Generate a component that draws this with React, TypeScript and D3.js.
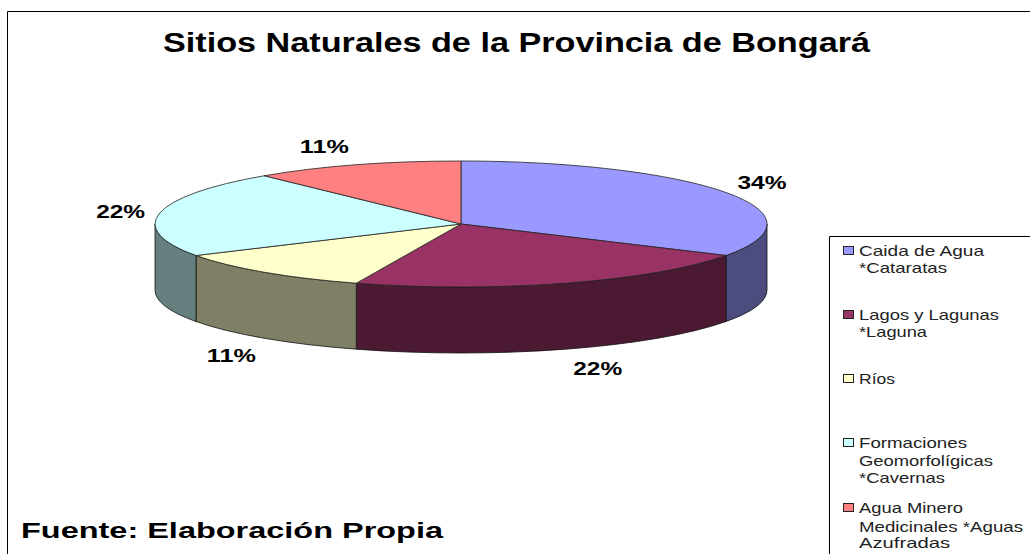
import React from 'react';
import * as d3 from 'd3';

const categories = ['Caida de Agua', 'Lagos y Lagunas', 'Ríos', 'Formaciones', 'Agua Minero'];
// slices are drawn from site counts, the printed percentages are what the chart shows
const siteCounts = [3, 2, 1, 2, 1];
const percentLabels = ['34%', '22%', '11%', '22%', '11%'];
const topColors = ['#9999FF', '#993366', '#FFFFCC', '#CCFFFF', '#FF8080'];
const sideColors = ['#4C4C7F', '#4C1933', '#7F7F66', '#667F7F', '#7F4040'];
const legendLines = [
  ['Caida de Agua', '*Cataratas'],
  ['Lagos y Lagunas', '*Laguna'],
  ['Ríos'],
  ['Formaciones', 'Geomorfolígicas', '*Cavernas'],
  ['Agua Minero', 'Medicinales *Aguas', 'Azufradas'],
];

const W = 1030;
const H = 554;
const cx = 461;
const cy = 224;
const rx = 306;
const ry = 63;
const depth = 66;
const font = '"Liberation Sans", Arial, sans-serif';

// pushes each label away from its slice, depth is added for the front ones
const labelOffsets = [[36, -3.5], [32, 26], [-33, 24], [-39, 5], [-32, -12]];
const legendRowY = [256, 320, 384, 448, 513];
const legendLineY = [[0, 17], [0, 17], [0], [0, 18, 35], [0, 19, 35]];
const legendWidths = [[125, 88], [140, 68], [36], [108, 134, 86], [104, 164, 91]];

const px = (a: number) => cx + rx * Math.sin(a);
const py = (a: number) => cy - ry * Math.cos(a);

const topPath = (a0: number, a1: number) =>
  `M${cx},${cy}L${px(a0)},${py(a0)}A${rx},${ry} 0 ${a1 - a0 > Math.PI ? 1 : 0} 1 ${px(a1)},${py(a1)}Z`;

const sidePath = (a0: number, a1: number) =>
  `M${px(a0)},${py(a0)}A${rx},${ry} 0 0 1 ${px(a1)},${py(a1)}` +
  `L${px(a1)},${py(a1) + depth}A${rx},${ry} 0 0 0 ${px(a0)},${py(a0) + depth}Z`;

export default function App() {
  const slices = d3.pie<number>().sort(null)(siteCounts);

  return (
    <svg
      width={W}
      height={H}
      viewBox={`0 0 ${W} ${H}`}
      style={{ position: 'absolute', left: 0, top: 0, display: 'block', background: '#fff' }}
    >
      {/* chart frame, open to the right and bottom of the picture */}
      <path d={`M7.5,${H}V11.5H${W}`} fill="none" stroke="#000" strokeWidth={1} />

      <text x={163} y={51.5} fontFamily={font} fontWeight="bold" fontSize={28} textLength={707} lengthAdjust="spacingAndGlyphs" fill="#000">
        Sitios Naturales de la Provincia de Bongará
      </text>

      {/* only the front half of the rim shows */}
      {slices.map((s, i) => {
        const a0 = Math.max(s.startAngle, Math.PI / 2);
        const a1 = Math.min(s.endAngle, (3 * Math.PI) / 2);
        if (a1 <= a0) return null;
        return <path key={categories[i]} d={sidePath(a0, a1)} fill={sideColors[i]} stroke="#111" strokeWidth={0.8} />;
      })}

      {slices.map((s, i) => (
        <path key={categories[i]} d={topPath(s.startAngle, s.endAngle)} fill={topColors[i]} stroke="#222" strokeWidth={0.8} />
      ))}

      {slices.map((s, i) => {
        const mid = (s.startAngle + s.endAngle) / 2;
        const front = Math.cos(mid) < 0 ? depth : 0;
        return (
          <text
            key={categories[i]}
            x={px(mid) + labelOffsets[i][0]}
            y={py(mid) + front + labelOffsets[i][1]}
            textAnchor="middle"
            fontFamily={font}
            fontWeight="bold"
            fontSize={18}
            textLength={49}
            lengthAdjust="spacingAndGlyphs"
            fill="#000"
          >
            {percentLabels[i]}
          </text>
        );
      })}

      {/* legend box runs off the picture too */}
      <path d={`M829.5,${H}V236.5H${W}`} fill="none" stroke="#000" strokeWidth={1} />
      {legendLines.map((lines, i) => (
        <g key={categories[i]}>
          <rect x={843.5} y={legendRowY[i] - 9.5} width={10} height={8} fill={topColors[i]} stroke="#222" strokeWidth={1} />
          {lines.map((line, j) => (
            <text
              key={line}
              x={859}
              y={legendRowY[i] + legendLineY[i][j]}
              fontFamily={font}
              fontSize={15}
              textLength={legendWidths[i][j]}
              lengthAdjust="spacingAndGlyphs"
              fill="#222"
            >
              {line}
            </text>
          ))}
        </g>
      ))}

      <text x={21} y={538} fontFamily={font} fontWeight="bold" fontSize={22} textLength={422} lengthAdjust="spacingAndGlyphs" fill="#000">
        Fuente: Elaboración Propia
      </text>
    </svg>
  );
}
